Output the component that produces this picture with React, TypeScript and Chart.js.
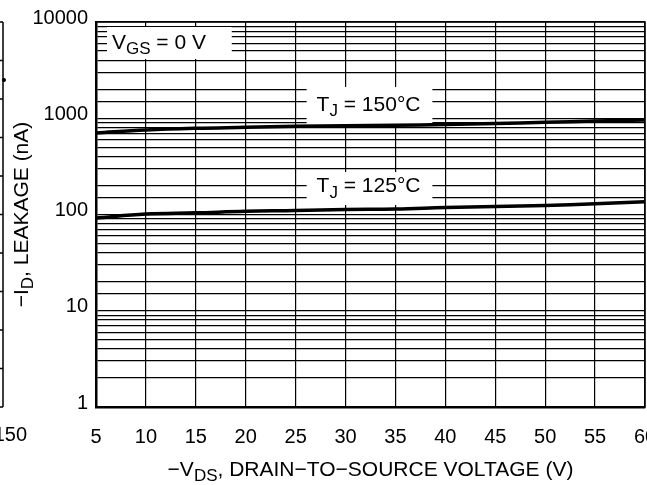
import { useEffect, useRef } from "react";
import { Chart, registerables } from "chart.js";

Chart.register(...registerables);

// ---- Data ----
const voltages = [5, 10, 15, 20, 25, 30, 35, 40, 45, 50, 55, 60];
const leakage150 = [703, 755, 787, 805, 824, 835, 845, 861, 883, 908, 936, 960];
const leakage125 = [92, 101, 104, 108, 110, 113, 114, 118, 121, 124, 129, 136];
const yDecades = [1, 10, 100, 1000, 10000];
const xStep = 5;
const xMin = 5;
const xMax = 60;

type Seg = { t: string; sub?: boolean };

// Label boxes (in data units)
const labelSegsVgs: Seg[] = [{ t: "V" }, { t: "GS", sub: true }, { t: " = 0 V" }];
const labelSegs150: Seg[] = [{ t: "T" }, { t: "J", sub: true }, { t: " = 150°C" }];
const labelSegs125: Seg[] = [{ t: "T" }, { t: "J", sub: true }, { t: " = 125°C" }];
const annotations = [
  { segs: labelSegsVgs, x0: 6.1, x1: 18.6, y0: 8873, y1: 4127, tx: 6.6, ty: 6053 },
  { segs: labelSegs150, x0: 26.1, x1: 38.7, y0: 2113, y1: 831, tx: 27.1, ty: 1373 },
  { segs: labelSegs125, x0: 26.1, x1: 38.7, y0: 276, y1: 125.5, tx: 27.1, ty: 194.5 },
];

const xTitle: Seg[] = [{ t: "−V" }, { t: "DS", sub: true }, { t: ", DRAIN−TO−SOURCE VOLTAGE (V)" }];
const yTitle: Seg[] = [{ t: "−I" }, { t: "D", sub: true }, { t: ", LEAKAGE (nA)" }];

const FAMILY = '"Liberation Sans", Arial, Helvetica, sans-serif';

function drawRich(
  ctx: CanvasRenderingContext2D,
  segs: Seg[],
  x: number,
  y: number,
  size: number,
  align: "left" | "center"
) {
  const main = `${size}px ${FAMILY}`;
  const sub = `${Math.round(size * 0.8)}px ${FAMILY}`;
  let total = 0;
  for (const s of segs) {
    ctx.font = s.sub ? sub : main;
    total += ctx.measureText(s.t).width;
  }
  let cx = align === "center" ? x - total / 2 : x;
  ctx.textAlign = "left";
  ctx.textBaseline = "middle";
  ctx.fillStyle = "#000";
  for (const s of segs) {
    ctx.font = s.sub ? sub : main;
    ctx.fillText(s.t, cx, s.sub ? y + size * 0.3 : y);
    cx += ctx.measureText(s.t).width;
  }
}

const decorPlugin = {
  id: "decor",
  beforeDatasetsDraw(chart: any) {
    const { ctx, scales, chartArea } = chart;
    const xs = scales.x;
    const ys = scales.y;
    ctx.save();
    ctx.strokeStyle = "#000";
    ctx.lineWidth = 1.5;
    ctx.strokeRect(chartArea.left, chartArea.top, chartArea.right - chartArea.left, chartArea.bottom - chartArea.top);
    ctx.fillStyle = "#fff";
    for (const a of annotations) {
      const l = xs.getPixelForValue(a.x0);
      const r = xs.getPixelForValue(a.x1);
      const t = ys.getPixelForValue(a.y0);
      const b = ys.getPixelForValue(a.y1);
      ctx.fillRect(l, t, r - l, b - t);
    }
    ctx.restore();
  },
  afterDraw(chart: any) {
    const { ctx, scales, chartArea } = chart;
    const xs = scales.x;
    const ys = scales.y;
    ctx.save();
    for (const a of annotations) {
      drawRich(ctx, a.segs, xs.getPixelForValue(a.tx), ys.getPixelForValue(a.ty), 21, "left");
    }
    // axis titles
    drawRich(ctx, xTitle, (chartArea.left + chartArea.right) / 2, 470, 21, "center");
    ctx.save();
    ctx.translate(22, (chartArea.top + chartArea.bottom) / 2);
    ctx.rotate(-Math.PI / 2);
    drawRich(ctx, yTitle, 0, 0, 21, "center");
    ctx.restore();

    // remnant of neighbouring chart at the left edge
    ctx.strokeStyle = "#000";
    ctx.lineWidth = 1.5;
    ctx.beginPath();
    ctx.moveTo(3, chartArea.top);
    ctx.lineTo(3, chartArea.bottom);
    for (let i = 0; i <= 10; i++) {
      const yy = chartArea.top + ((chartArea.bottom - chartArea.top) * i) / 10;
      ctx.moveTo(0, yy);
      ctx.lineTo(3, yy);
    }
    ctx.stroke();
    ctx.beginPath();
    ctx.arc(4, 80, 2, 0, Math.PI * 2);
    ctx.fillStyle = "#000";
    ctx.fill();
    ctx.font = `20px ${FAMILY}`;
    ctx.textAlign = "right";
    ctx.textBaseline = "middle";
    ctx.fillText("150", 27, 435);
    ctx.restore();
  },
};

export default function App() {
  const ref = useRef<HTMLCanvasElement | null>(null);
  useEffect(() => {
    document.body.style.margin = "0";
    const canvas = ref.current;
    if (!canvas) return;
    const tickFont = { family: FAMILY, size: 20 };
    const chart = new Chart(canvas, {
      type: "line",
      data: {
        datasets: [
          {
            label: "TJ = 150°C",
            data: voltages.map((v, i) => ({ x: v, y: leakage150[i] })),
            borderColor: "#000",
            borderWidth: 3.5,
            pointRadius: 0,
            tension: 0.4,
          },
          {
            label: "TJ = 125°C",
            data: voltages.map((v, i) => ({ x: v, y: leakage125[i] })),
            borderColor: "#000",
            borderWidth: 3.5,
            pointRadius: 0,
            tension: 0.4,
          },
        ],
      },
      options: {
        animation: false,
        responsive: false,
        layout: { padding: { left: 0, top: 22, right: 2, bottom: 0 } },
        plugins: { legend: { display: false }, tooltip: { enabled: false } },
        scales: {
          x: {
            type: "linear",
            min: xMin,
            max: xMax,
            ticks: {
              stepSize: xStep,
              color: "#000",
              font: tickFont,
              padding: 18,
              maxRotation: 0,
              autoSkip: false,
            },
            grid: { color: "#000", lineWidth: 1.2, drawTicks: false },
            border: { color: "#000", width: 2.5 },
            afterFit(s: any) {
              s.height = 78;
              s.paddingLeft = 0;
              s.paddingRight = 0;
            },
          },
          y: {
            type: "logarithmic",
            min: 1,
            max: 10000,
            ticks: {
              autoSkip: false,
              color: "#000",
              font: tickFont,
              padding: 8,
              labelOffset: -4,
              callback: (v: any) => (yDecades.includes(Number(v)) ? String(v) : ""),
            },
            grid: { color: "#000", lineWidth: 1.2, drawTicks: false },
            border: { color: "#000", width: 2.5 },
            afterFit(s: any) {
              s.width = 96;
              s.paddingTop = 0;
              s.paddingBottom = 0;
            },
          },
        },
      } as any,
      plugins: [decorPlugin],
    });
    return () => chart.destroy();
  }, []);
  return (
    <div style={{ position: "absolute", left: 0, top: 0, width: 647, height: 485, background: "#fff" }}>
      <canvas ref={ref} width={647} height={485} />
    </div>
  );
}
